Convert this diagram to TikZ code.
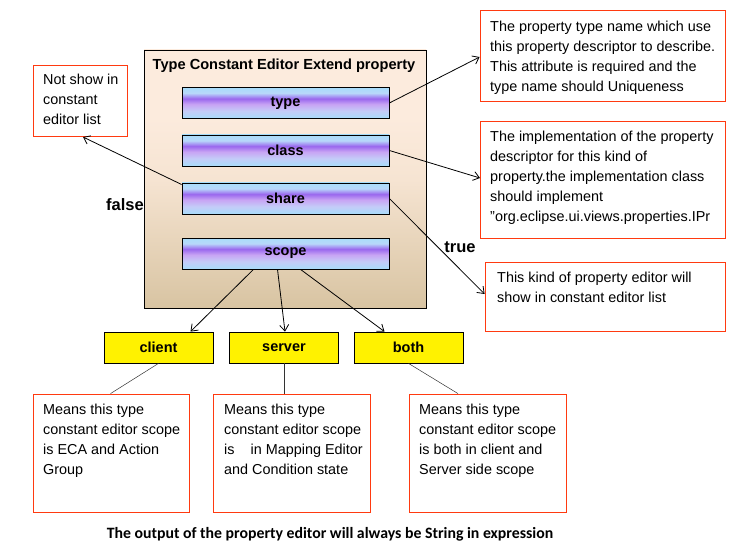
\documentclass[tikz,border=0pt]{standalone}
\usepackage{fontspec}
\setmainfont{Liberation Sans}
\newfontfamily\calib{Carlito}
\usetikzlibrary{arrows.meta}
\definecolor{redline}{HTML}{FF3A10}
\definecolor{lb}{HTML}{A8DCFA}
\definecolor{lb2}{HTML}{B8D8FA}
\definecolor{pp}{HTML}{9A68EE}
\definecolor{pk}{HTML}{C8A4F4}
\definecolor{lav}{HTML}{C4CCF8}
\definecolor{peach}{HTML}{FCEBDD}
\definecolor{peach2}{HTML}{F6E4D2}
\definecolor{tan}{HTML}{D8C4A2}
\pgfdeclareverticalshading{barshade}{100bp}{color(0bp)=(lb); color(25bp)=(lb); color(37bp)=(lav); color(48bp)=(pk); color(57bp)=(pp); color(66bp)=(lb2); color(75bp)=(lb); color(100bp)=(lb)}
\pgfdeclareverticalshading{mainshade}{100bp}{color(0bp)=(tan); color(25bp)=(tan); color(50bp)=(peach2); color(62bp)=(peach); color(75bp)=(peach); color(100bp)=(peach)}
\tikzset{
  bar/.style={draw=black, line width=0.8pt, shading=barshade, minimum width=207pt, minimum height=31pt, inner sep=0pt, font=\bfseries\fontsize{14.5}{16}\selectfont},
  ybox/.style={draw=black, line width=0.8pt, fill=yellow, minimum width=109pt, minimum height=31pt, inner sep=0pt, font=\bfseries\fontsize{14.5}{16}\selectfont},
  rbox/.style={draw=redline, line width=0.8pt, fill=white, inner sep=0pt},
  btext/.style={anchor=north west, inner sep=0pt, align=left, font=\fontsize{14.4}{20}\selectfont},
  arr/.style={line width=0.8pt, -{Straight Barb[length=6pt,width=9pt]}},
  conn/.style={line width=0.5pt, draw=black!80},
  lbl/.style={font=\bfseries\fontsize{16.5}{18}\selectfont, inner sep=0pt}
}
\begin{document}
\begin{tikzpicture}[x=1pt,y=-1pt]
\useasboundingbox (0,0) rectangle (744,548);
% main box
\node[draw=black, line width=0.8pt, shading=mainshade, minimum width=282pt, minimum height=258pt, inner sep=0pt] (main) at (285,179) {};
\node[inner sep=0pt, font=\bfseries\fontsize{14.6}{16}\selectfont] (title) at (284,66) {Type Constant Editor Extend property};
\node[bar] (type) at (285.5,103) {type};
\node[bar] (class) at (285.5,150.5) {class};
\node[bar] (share) at (285.5,198.5) {share};
\node[bar] (scope) at (285.5,253.5) {scope};
% right boxes
\node[rbox, minimum width=245pt, minimum height=91pt] (d1) at (602.5,55.5) {};
\node[btext] (t1) at (490,21) {The property type name which use\\this property descriptor to describe.\\This attribute is required and the\\type name should Uniqueness};
\node[rbox, minimum width=245pt, minimum height=117pt] (d2) at (602.5,179.5) {};
\node[btext] (t2) at (490,131) {The implementation of the property\\descriptor for this kind of\\property.the implementation class\\should implement\\\symbol{34}org.eclipse.ui.views.properties.IPr};
\node[rbox, minimum width=240pt, minimum height=69pt] (d3) at (605,296.5) {};
\node[btext] (t3) at (497,272) {This kind of property editor will\\show in constant editor list};
\node[rbox, minimum width=94pt, minimum height=71pt] (d4) at (80,100.5) {};
\node[btext] (t4) at (43,74) {Not show in\\constant\\editor list};
% labels
\node[lbl] (false) at (125,205) {false};
\node[lbl] (true) at (460,247) {true};
% arrows
\draw[arr] (type.east) -- (d1.west |- 0,57);
\draw[arr] (class.east) -- (480,178) coordinate (c2);
\draw[arr] (share.east) -- (d3.west |- 0,294);
\draw[arr] ([yshift=14pt]share.west) -- (83,137) coordinate (c4);
% yellow boxes
\node[ybox] (client) at (158.5,347.5) {client};
\node[ybox] (server) at (284,347.5) {server};
\node[ybox] (both) at (408.5,347.5) {both};
\draw[arr] ([xshift=-32pt]scope.south) -- ([xshift=32pt]client.north);
\draw[arr] ([xshift=-8pt]scope.south) -- ([xshift=1pt]server.north);
\draw[arr] ([xshift=15pt]scope.south) -- ([xshift=-24pt]both.north);
% lower boxes
\node[rbox, minimum width=156pt, minimum height=118pt] (e1) at (111,453) {};
\node[btext] (u1) at (43,404) {Means this type\\constant editor scope\\is ECA and Action\\Group};
\node[rbox, minimum width=157pt, minimum height=118pt] (e2) at (291.5,453) {};
\node[btext] (u2) at (224,404) {Means this type\\constant editor scope\\is \ \ \ in Mapping Editor\\and Condition state};
\node[rbox, minimum width=157pt, minimum height=118pt] (e3) at (487.5,453) {};
\node[btext] (u3) at (419,404) {Means this type\\constant editor scope\\is both in client and\\Server side scope};
\draw[conn] (client.south) -- ([xshift=-0.5pt]e1.north);
\draw[conn] (server.south) -- ([xshift=-7.5pt]e2.north);
\draw[conn] (both.south) -- ([xshift=-29.5pt]e3.north);
% bottom text
\node[inner sep=0pt, font=\calib\bfseries\fontsize{15.8}{17}\selectfont] (foot) at (330,534) {The output of the property editor will always be String in expression};
\end{tikzpicture}
\end{document}
